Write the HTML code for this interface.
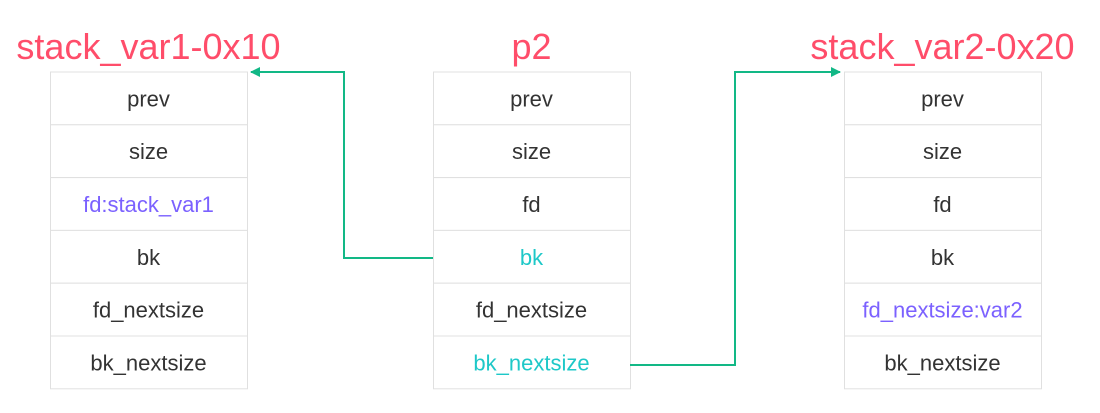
<!DOCTYPE html>
<html><head><meta charset="utf-8"><style>
html,body{margin:0;padding:0;background:#fff;}
svg{display:block;font-family:"Liberation Sans","Noto Sans CJK SC",sans-serif;}
</style></head><body>
<svg width="1100" height="413" viewBox="0 0 1100 413">
<defs><marker id="ah" markerWidth="10" markerHeight="10" refX="9" refY="5" orient="auto" markerUnits="userSpaceOnUse"><path d="M0,0 L10,5 L0,10 z" fill="#12b886"/></marker></defs>
<g id="tables"></g>
<polyline points="433,258 344,258 344,72 251,72" fill="none" stroke="#12b886" stroke-width="2" marker-end="url(#ah)"/>
<polyline points="630,365 735,365 735,72 840,72" fill="none" stroke="#12b886" stroke-width="2" marker-end="url(#ah)"/>
</svg>
<script>
const tables=[
 {name:'stack-var1-chunk',title:'stack_var1-0x10',x:50,rows:['prev','size','fd:stack_var1','bk','fd_nextsize','bk_nextsize'],colors:{2:'#7b61ff'}},
 {name:'p2-chunk',title:'p2',x:433,rows:['prev','size','fd','bk','fd_nextsize','bk_nextsize'],colors:{3:'#1ec8c8',5:'#1ec8c8'}},
 {name:'stack-var2-chunk',title:'stack_var2-0x20',x:844,rows:['prev','size','fd','bk','fd_nextsize:var2','bk_nextsize'],colors:{4:'#7b61ff'}}
];
const ns='http://www.w3.org/2000/svg',g=document.getElementById('tables');
const W=197,top0=72,rh=52.8;
tables.forEach(t=>{
 const grp=document.createElementNS(ns,'g');
 
 
 const tt=document.createElementNS(ns,'text');
 tt.setAttribute('x',t.x+W/2);tt.setAttribute('y',59);tt.setAttribute('text-anchor','middle');
 tt.setAttribute('font-size','36');tt.setAttribute('fill','#ff4d6a');tt.textContent=t.title;
 
 
 grp.appendChild(tt);
 t.rows.forEach((r,i)=>{
  const rc=document.createElementNS(ns,'rect');
  rc.setAttribute('x',t.x+0.5);rc.setAttribute('y',top0+i*rh);rc.setAttribute('width',W);rc.setAttribute('height',rh);
  rc.setAttribute('fill','#fff');rc.setAttribute('stroke','#e0e0e0');rc.setAttribute('stroke-width','1');
  
  
  grp.appendChild(rc);
  const tx=document.createElementNS(ns,'text');
  tx.setAttribute('x',t.x+W/2);tx.setAttribute('y',top0+i*rh+rh/2+8);tx.setAttribute('text-anchor','middle');
  tx.setAttribute('font-size','22');tx.setAttribute('fill',t.colors[i]||'#333');tx.textContent=r;
  
  
  grp.appendChild(tx);
 });
 g.appendChild(grp);
});
</script>
</body></html>
